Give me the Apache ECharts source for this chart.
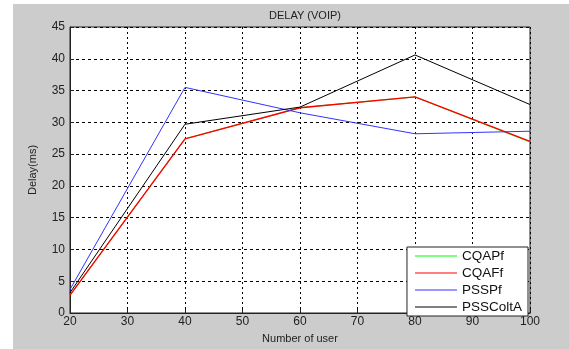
<!DOCTYPE html>
<html>
    <head>
        <meta charset="utf-8">
        <title>DELAY (VOIP)</title>
        <script src="https://cdn.jsdelivr.net/npm/echarts@6/dist/echarts.min.js"></script>
        <style>
            html, body { margin: 0; padding: 0; background: #fff; }
            #chart1 { width: 569px; height: 349px; }
        </style>
    </head>
    <body>
        <div id="chart1"></div>
        <script type="text/javascript">
            // 数据
            var users = [20, 40, 60, 80, 100];
            var cqapf = [2.8, 27.4, 32.3, 34.0, 26.9];
            var cqaff = [2.8, 27.4, 32.3, 34.0, 27.0];
            var psspf = [3.7, 35.5, 31.5, 28.2, 28.6];
            var psscolta = [3.2, 29.7, 32.4, 40.6, 32.8];
            var names = ['CQAPf', 'CQAFf', 'PSSPf', 'PSSColtA'];
            var colors = ['#00ff00', '#ff0000', '#3333ff', '#000000'];

            function pairs(ys) {
                return users.map(function (u, i) { return [u, ys[i]]; });
            }

            var font = 'Liberation Sans, Arial, sans-serif';
            var myChart1 = echarts.init(document.getElementById('chart1'));

            myChart1.setOption({
                backgroundColor: '#ffffff',
                animation: false,
                graphic: [
                    { type: 'rect', z: -10, shape: { x: 13, y: 4, width: 556, height: 345 },
                      style: { fill: '#cccccc' } }
                ],
                title: {
                    text: 'DELAY (VOIP)', left: 300, top: 5, textAlign: 'center',
                    textStyle: { fontFamily: font, fontSize: 11, fontWeight: 'normal', color: '#222' }
                },
                grid: {
                    left: 70, right: 39, top: 27, bottom: 33,
                    show: true, backgroundColor: '#ffffff', borderColor: '#222', borderWidth: 1
                },
                legend: {
                    orient: 'vertical', right: 41, bottom: 33,
                    backgroundColor: '#ffffff', borderColor: '#222', borderWidth: 1,
                    padding: [2, 6, 2, 8], itemGap: 3, itemWidth: 42, itemHeight: 10,
                    icon: 'path://M0,5L42,5L42,6L0,6Z',
                    data: names,
                    textStyle: { fontFamily: font, fontSize: 13.5, color: '#111', padding: [0, 0, 0, 0] }
                },
                xAxis: {
                    type: 'value', min: 20, max: 100, interval: 10,
                    name: 'Number of user', nameLocation: 'middle', nameGap: 20,
                    nameTextStyle: { fontFamily: font, fontSize: 11, color: '#222' },
                    axisLine: { show: true, lineStyle: { color: '#222' } },
                    axisTick: { inside: true, length: 4, lineStyle: { color: '#222' } },
                    axisLabel: { fontFamily: font, fontSize: 12, color: '#222', margin: 3 },
                    splitLine: { show: true, lineStyle: { color: '#000', type: [2, 3], width: 1 } }
                },
                yAxis: {
                    type: 'value', min: 0, max: 45, interval: 5,
                    name: 'Delay(ms)', nameLocation: 'middle', nameGap: 32,
                    nameTextStyle: { fontFamily: font, fontSize: 11, color: '#222' },
                    axisLine: { show: true, lineStyle: { color: '#222' } },
                    axisTick: { inside: true, length: 4, lineStyle: { color: '#222' } },
                    axisLabel: { fontFamily: font, fontSize: 12, color: '#222', margin: 5 },
                    splitLine: { show: true, lineStyle: { color: '#000', type: [3, 3], width: 1 } }
                },
                series: [
                    { name: names[0], type: 'line', data: pairs(cqapf), showSymbol: false,
                      lineStyle: { width: 1, color: colors[0] }, itemStyle: { color: colors[0] } },
                    { name: names[1], type: 'line', data: pairs(cqaff), showSymbol: false,
                      lineStyle: { width: 1.4, color: colors[1] }, itemStyle: { color: colors[1] } },
                    { name: names[2], type: 'line', data: pairs(psspf), showSymbol: false,
                      lineStyle: { width: 1, color: colors[2] }, itemStyle: { color: colors[2] } },
                    { name: names[3], type: 'line', data: pairs(psscolta), showSymbol: false,
                      lineStyle: { width: 1, color: colors[3] }, itemStyle: { color: colors[3] } }
                ]
            });
        </script>
    </body>
</html>
